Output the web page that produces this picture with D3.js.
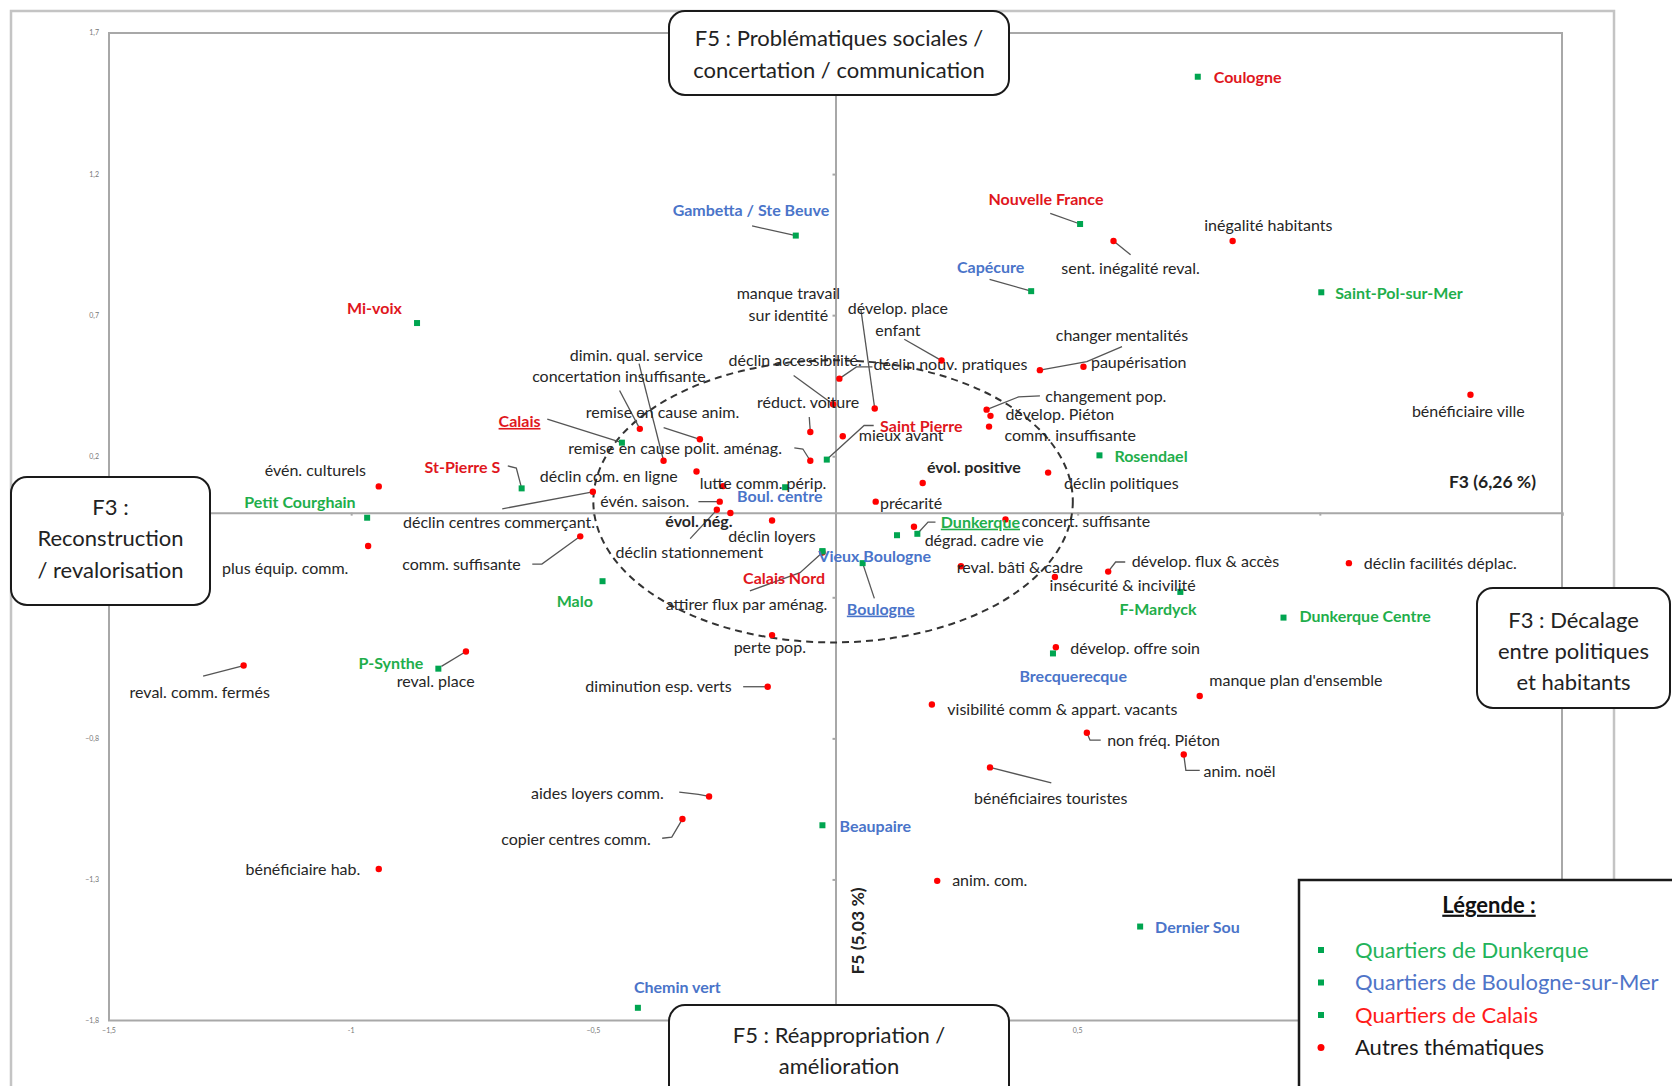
<!DOCTYPE html>
<html>
<head>
<meta charset="utf-8">
<script src="https://cdn.jsdelivr.net/npm/d3@7"></script>
<style>
  body { margin: 0; background: #fff; }
  text { font-family: Lato, "Open Sans", sans-serif; }
</style>
</head>
<body>
<svg id="chart" width="1672" height="1086"></svg>
<script>
// ---- data: quartiers (green squares) ----
var quartierNames = ["Coulogne", "Nouvelle France", "Gambetta / Ste Beuve", "Capécure", "Saint-Pol-sur-Mer",
  "Mi-voix", "Calais", "Saint Pierre", "Rosendael", "St-Pierre S", "Petit Courghain", "Boul. centre",
  "Dunkerque", "", "Calais Nord", "Vieux Boulogne", "Boulogne", "Malo", "F-Mardyck", "Dunkerque Centre",
  "P-Synthe", "Brecquerecque", "Beaupaire", "Dernier Sou", "Chemin vert"];
var quartierX = [0.748, 0.505, -0.082, 0.404, 1.003, -0.864, -0.441, -0.018, 0.545, -0.648, -0.967, -0.104,
  0.169, 0.127, -0.027, -0.027, 0.056, -0.481, 0.712, 0.925, -0.820, 0.449, -0.027, 0.629, -0.408];
var quartierY = [1.545, 1.023, 0.982, 0.785, 0.781, 0.672, 0.248, 0.188, 0.203, 0.086, -0.018, 0.090,
  -0.075, -0.080, -0.137, -0.137, -0.179, -0.243, -0.281, -0.372, -0.553, -0.499, -1.108, -1.467, -1.755];
var quartierVille = ["C", "C", "B", "B", "D", "C", "C", "C", "D", "C", "D", "B",
  "D", "D", "C", "B", "B", "D", "D", "D", "D", "B", "B", "B", "B"];

// ---- data: autres thématiques (red dots) ----
var themeNames = ["inégalité habitants", "sent. inégalité reval.", "bénéficiaire ville", "manque travail\nsur identité",
  "dévelop. place\nenfant", "déclin nouv. pratiques", "déclin accessibilité.", "changer mentalités", "paupérisation",
  "réduct. voiture", "mieux avant", "remise en cause polit. aménag.", "remise en cause anim.", "dimin. qual. service",
  "concertation insuffisante", "déclin com. en ligne", "lutte  comm. périp.", "évén. saison.", "déclin stationnement",
  "évol. nég.", "évol. positive", "déclin loyers", "comm. suffisante", "déclin centres commerçant.", "évén. culturels",
  "plus équip. comm.", "précarité", "changement pop.", "dévelop. Piéton", "comm. insuffisante", "déclin politiques",
  "concert. suffisante", "dégrad. cadre vie", "reval. bâti & cadre", "insécurité & incivilité", "dévelop. flux & accès",
  "déclin facilités déplac.", "attirer flux par aménag.", "perte pop.", "reval. comm. fermés", "reval. place",
  "diminution esp. verts", "aides  loyers comm.", "copier centres comm.", "bénéficiaire hab.", "dévelop. offre soin",
  "visibilité comm & appart. vacants", "manque plan d'ensemble", "non fréq. Piéton", "anim. noël",
  "bénéficiaires touristes", "anim. com."];
var themeX = [0.820, 0.574, 1.311, 0.081, 0.219, 0.008, -0.005, 0.422, 0.512, -0.052, 0.015, -0.052, -0.280, -0.355,
  -0.404, -0.287, -0.232, -0.239, -0.245, -0.217, 0.180, -0.131, -0.527, -0.501, -0.943, -0.965, 0.083, 0.312, 0.320,
  0.317, 0.439, 0.351, 0.162, 0.259, 0.453, 0.563, 1.060, -0.027, -0.131, -1.222, -0.763, -0.140, -0.261, -0.316,
  -0.943, 0.455, 0.199, 0.752, 0.519, 0.719, 0.319, 0.210];
var themeY = [0.963, 0.963, 0.418, 0.369, 0.539, 0.475, 0.384, 0.505, 0.517, 0.286, 0.271, 0.184, 0.260, 0.184,
  0.297, 0.146, 0.094, 0.039, 0.010, -0.001, 0.105, -0.028, -0.084, 0.074, 0.093, -0.118, 0.039, 0.365, 0.343,
  0.305, 0.142, -0.024, -0.050, -0.190, -0.228, -0.209, -0.179, -0.141, -0.434, -0.542, -0.492, -0.617, -1.006, -1.086,
  -1.263, -0.477, -0.680, -0.650, -0.780, -0.857, -0.903, -1.305];

var xTicks = [-1.5, -1, -0.5, 0, 0.5, 1, 1.5];
var yTicks = [1.7, 1.2, 0.7, 0.2, -0.3, -0.8, -1.3, -1.8];
// tick labels that stay visible (others sit under the boxes)
var xTickLabels = [-1.5, -1, -0.5, 0.5];
var yTickLabels = [1.7, 1.2, 0.7, 0.2, -0.8, -1.3, -1.8];
var legendLabels = ["Quartiers de Dunkerque", "Quartiers de Boulogne-sur-Mer", "Quartiers de Calais", "Autres thématiques"];
var legendKinds = ["D", "B", "C", "T"];

// ---- label placement (offsets in px: [dx, dy, anchor, leader start, elbow]) ----
var quartierLabelPos = {
  "Coulogne": [15, 1, "start"],
  "Nouvelle France": [-32, -23, "middle", [-28, -10]],
  "Gambetta / Ste Beuve": [-42, -24, "middle", [-41, -9]],
  "Capécure": [-38, -22, "middle", [-39, -11]],
  "Saint-Pol-sur-Mer": [13, 1, "start"],
  "Mi-voix": [-40, -14, "middle"],
  "Calais": [-96, -20, "middle", [-70, -22]],
  "Saint Pierre": [50, -31, "start", [44, -32], [35, -32]],
  "Rosendael": [14, 1, "start"],
  "St-Pierre S": [-20, -20, "end", [-13, -21], [-5, -19]],
  "Petit Courghain": [-63, -14, "middle"],
  "Boul. centre": [-5, 9, "middle"],
  "Dunkerque": [22, -11, "start", [17, -11], [10, -11]],
  "Calais Nord": [-36, 25, "middle"],
  "Vieux Boulogne": [49, 5, "middle"],
  "Boulogne": [17, 43, "middle", [11, 33]],
  "Malo": [-26, 19, "middle"],
  "F-Mardyck": [-21, 16, "middle"],
  "Dunkerque Centre": [15, -1, "start"],
  "P-Synthe": [-14, -5, "end"],
  "Brecquerecque": [19, 22, "middle"],
  "Beaupaire": [16, 1, "start"],
  "Dernier Sou": [14, 1, "start"],
  "Chemin vert": [37, -19, "middle"]
};
var underlined = ["Calais", "Dunkerque", "Boulogne"];

var themeLabelPos = {
  "inégalité habitants": [33.5, -15, "middle"],
  "sent. inégalité reval.": [16, 26, "middle", [16, 13]],
  "bénéficiaire ville": [-2, 16, "middle"],
  "manque travail\nsur identité": [-81, -108, "middle", [-13, -93]],
  "dévelop. place\nenfant": [-41, -49, "middle", [-35, -20]],
  "déclin nouv. pratiques": [32, -13, "start", [31, -11], [16, -11]],
  "déclin accessibilité.": [-98, -41, "start", [-37, -27]],
  "changer mentalités": [77, -33, "middle", [77, -22], [44, -8]],
  "paupérisation": [7, -4, "start"],
  "réduct. voiture": [-50, -28, "start", [-1, -14]],
  "mieux avant": [15, -1, "start"],
  "remise en cause polit. aménag.": [-227, -12, "start", [-15, -12], [-7, -11]],
  "remise en cause anim.": [-107, -25, "start", [-34, -11]],
  "dimin. qual. service": [-88, -99, "start", [-23, -91]],
  "concertation insuffisante": [-101, -49, "start", [-19, -36]],
  "déclin com. en ligne": [-147, 5, "start"],
  "lutte  comm. périp.": [-22, -3, "start"],
  "évén. saison.": [-112, 0, "start", [-20, 0]],
  "déclin stationnement": [-95, 40, "start", [-25, 27]],
  "évol. nég.": [-61, 8, "start"],
  "évol. positive": [4, -15, "start"],
  "déclin loyers": [-41, 15, "start"],
  "comm. suffisante": [-167, 26, "start", [-45, 26], [-36, 26]],
  "déclin centres commerçant.": [-178, 29, "start", [-85, 16]],
  "évén. culturels": [-107, -15, "start"],
  "plus équip. comm.": [-137, 21, "start"],
  "précarité": [4, 1.5, "start"],
  "changement pop.": [55, -12, "start", [50, -13], [30, -12]],
  "dévelop. Piéton": [14, -1, "start"],
  "comm. insuffisante": [14.5, 8, "start"],
  "déclin politiques": [15, 10, "start"],
  "concert. suffisante": [15, 2, "start"],
  "dégrad. cadre vie": [10, 13, "start"],
  "reval. bâti & cadre": [-4, 1, "start"],
  "insécurité & incivilité": [-5, 8, "start"],
  "dévelop. flux & accès": [22, -10, "start", [16, -9], [7, -9]],
  "déclin facilités déplac.": [14, 0, "start"],
  "attirer flux par aménag.": [-147, 49, "start", [-68, 36], [-21, 19]],
  "perte pop.": [-36, 11.5, "start"],
  "reval. comm. fermés": [-107, 25, "start", [-38, 10]],
  "reval. place": [-65, 28, "start", [-23, 14]],
  "diminution esp. verts": [-171, 0, "start", [-23, 0]],
  "aides  loyers comm.": [-167, -3, "start", [-28, -4], [-10, -2]],
  "copier centres comm.": [-170, 19, "start", [-19, 18], [-10, 17]],
  "bénéficiaire hab.": [-125, 0, "start"],
  "dévelop. offre soin": [13.5, 1, "start"],
  "visibilité comm & appart. vacants": [14.5, 4.5, "start"],
  "manque plan d'ensemble": [9, -15, "start"],
  "non fréq. Piéton": [19, 7, "start", [13, 7], [3, 7]],
  "anim. noël": [18.5, 15.6, "start", [15, 15], [2, 15]],
  "bénéficiaires touristes": [-15, 29, "start", [57.5, 14.5]],
  "anim. com.": [14, 0, "start"]
};
var boldThemes = ["évol. nég.", "évol. positive"];

var K = 1.0663;  // offsets above were read at reduced size
var colors = { D: "#1fae4b", B: "#4a74c9", C: "#e0161d", T: "#262626" };
var legendColors = { D: "#22b35a", B: "#4f74c8", C: "#ff1a1a", T: "#1a1a1a" };

var svg = d3.select("#chart");
var x = d3.scaleLinear().domain([-1.5, 1.5]).range([109, 1562]);
var y = d3.scaleLinear().domain([-1.8, 1.7]).range([1020.5, 33]);
var fr = d3.format(".1f");
function frNum(v) { return (Number.isInteger(v) ? String(v) : fr(v)).replace(".", ","); }

// outer frame
svg.append("rect").attr("x", 11).attr("y", 11).attr("width", 1603).attr("height", 1100)
  .attr("fill", "none").attr("stroke", "#c4c4c4").attr("stroke-width", 2.5);

// plot frame
svg.append("rect").attr("x", x(-1.5)).attr("y", y(1.7)).attr("width", x(1.5) - x(-1.5)).attr("height", y(-1.8) - y(1.7))
  .attr("fill", "none").attr("stroke", "#a8a8a8").attr("stroke-width", 2);

// axes through origin
var xAxis = d3.axisBottom(x).tickValues(xTicks).tickSize(3).tickFormat("");
var yAxis = d3.axisLeft(y).tickValues(yTicks).tickSize(3).tickFormat("");
svg.append("g").attr("transform", "translate(0," + y(0) + ")").call(xAxis)
  .call(function (g) { g.selectAll("line,path").attr("stroke", "#a8a8a8").attr("stroke-width", 2); });
svg.append("g").attr("transform", "translate(" + x(0) + ",0)").call(yAxis)
  .call(function (g) { g.selectAll("line,path").attr("stroke", "#a8a8a8").attr("stroke-width", 2); });

// tick labels around the frame
svg.append("g").selectAll("text").data(yTickLabels).enter().append("text")
  .attr("x", 99).attr("y", function (d) { return y(d); }).attr("dy", "0.35em")
  .attr("text-anchor", "end").attr("font-size", 7).attr("fill", "#777").text(frNum);
svg.append("g").selectAll("text").data(xTickLabels).enter().append("text")
  .attr("x", function (d) { return x(d); }).attr("y", 1033)
  .attr("text-anchor", "middle").attr("font-size", 7).attr("fill", "#777").text(frNum);

// dashed ellipse
svg.append("ellipse").attr("cx", x(-0.005)).attr("cy", y(0.04))
  .attr("rx", x(0.495) - x(0)).attr("ry", y(0) - y(0.5))
  .attr("fill", "none").attr("stroke", "#333").attr("stroke-width", 2).attr("stroke-dasharray", "7,5");

// axis titles
svg.append("text").attr("x", 1536).attr("y", 482).attr("text-anchor", "end").attr("dy", "0.35em")
  .attr("font-weight", "bold").attr("font-size", 17.5).attr("fill", "#222").text("F3 (6,26 %)");
svg.append("text").attr("transform", "translate(858,931) rotate(-90)").attr("text-anchor", "middle").attr("dy", "0.35em")
  .attr("font-weight", "bold").attr("font-size", 17.5).attr("fill", "#222").text("F5 (5,03 %)");

// build item lists
var quartiers = quartierNames.map(function (n, i) {
  return { name: n, x: quartierX[i], y: quartierY[i], g: quartierVille[i], pos: quartierLabelPos[n] };
});
var themes = themeNames.map(function (n, i) {
  return { name: n, x: themeX[i], y: themeY[i], g: "T", pos: themeLabelPos[n] };
});
var all = themes.concat(quartiers);

// leader lines
var line = d3.line();
svg.append("g").selectAll("path").data(all.filter(function (d) { return d.pos && d.pos[3]; })).enter()
  .append("path")
  .attr("d", function (d) {
    var px = x(d.x), py = y(d.y);
    var pts = [[px + d.pos[3][0] * K, py + d.pos[3][1] * K]];
    if (d.pos[4]) pts.push([px + d.pos[4][0] * K, py + d.pos[4][1] * K]);
    pts.push([px, py]);
    return line(pts);
  })
  .attr("fill", "none").attr("stroke", "#555").attr("stroke-width", 1.3);

// red dots
svg.append("g").selectAll("circle").data(themes).enter().append("circle")
  .attr("cx", function (d) { return x(d.x); }).attr("cy", function (d) { return y(d.y); })
  .attr("r", 3.2).attr("fill", "#ff0000");

// green squares
svg.append("g").selectAll("rect").data(quartiers).enter().append("rect")
  .attr("x", function (d) { return x(d.x) - 3; }).attr("y", function (d) { return y(d.y) - 3; })
  .attr("width", 6).attr("height", 6).attr("fill", "#00a550");

// labels
function addLabels(data, size, weightFn) {
  var t = svg.append("g").selectAll("text").data(data.filter(function (d) { return d.name && d.pos; })).enter()
    .append("text")
    .attr("x", function (d) { return x(d.x) + d.pos[0] * K; })
    .attr("y", function (d) { return y(d.y) + d.pos[1] * K; })
    .attr("text-anchor", function (d) { return d.pos[2]; })
    .attr("font-size", size)
    .attr("font-weight", weightFn)
    .attr("fill", function (d) { return colors[d.g]; })
    .attr("text-decoration", function (d) { return underlined.indexOf(d.name) >= 0 && d.g !== "T" ? "underline" : null; });
  t.each(function (d) {
    var el = d3.select(this);
    d.name.split("\n").forEach(function (s, i) {
      el.append("tspan").attr("x", x(d.x) + d.pos[0] * K).attr("dy", i === 0 ? "0.35em" : 21 * K).text(s);
    });
  });
}
addLabels(themes, 16, function (d) { return boldThemes.indexOf(d.name) >= 0 ? "bold" : "normal"; });
addLabels(quartiers, 16, function () { return "bold"; });

// annotation boxes
function box(x0, y0, w, h, lines, firstY, step) {
  var g = svg.append("g");
  g.append("rect").attr("x", x0).attr("y", y0).attr("width", w).attr("height", h).attr("rx", 16)
    .attr("fill", "#fff").attr("stroke", "#1a1a1a").attr("stroke-width", 2);
  lines.forEach(function (s, i) {
    g.append("text").attr("x", x0 + w / 2).attr("y", firstY + i * step).attr("dy", "0.35em")
      .attr("text-anchor", "middle").attr("font-size", 22).attr("fill", "#222").text(s);
  });
}
box(669, 11, 340, 84, ["F5 : Problématiques sociales /", "concertation / communication"], 38, 32);
box(11, 477, 199, 128, ["F3 :", "Reconstruction", "/ revalorisation"], 507, 31.5);
box(1477, 588, 193, 120, ["F3 : Décalage", "entre politiques", "et habitants"], 620, 31);
box(669, 1005, 340, 110, ["F5 : Réappropriation /", "amélioration"], 1035, 31);

// legend
var lg = svg.append("g");
lg.append("rect").attr("x", 1299).attr("y", 880).attr("width", 400).attr("height", 260)
  .attr("fill", "#fff").attr("stroke", "#1a1a1a").attr("stroke-width", 2.5);
lg.append("text").attr("x", 1489).attr("y", 905).attr("dy", "0.35em").attr("text-anchor", "middle")
  .attr("font-size", 22).attr("font-weight", "bold").attr("fill", "#111").attr("text-decoration", "underline")
  .text("Légende :");
legendLabels.forEach(function (s, i) {
  var yy = 950 + i * 32.5;
  if (legendKinds[i] === "T") {
    lg.append("circle").attr("cx", 1321).attr("cy", yy).attr("r", 3.5).attr("fill", "#ff0000");
  } else {
    lg.append("rect").attr("x", 1318).attr("y", yy - 3).attr("width", 6).attr("height", 6).attr("fill", "#00a550");
  }
  lg.append("text").attr("x", 1355).attr("y", yy).attr("dy", "0.35em").attr("font-size", 22)
    .attr("fill", legendColors[legendKinds[i]]).text(s);
});
</script>
</body>
</html>
